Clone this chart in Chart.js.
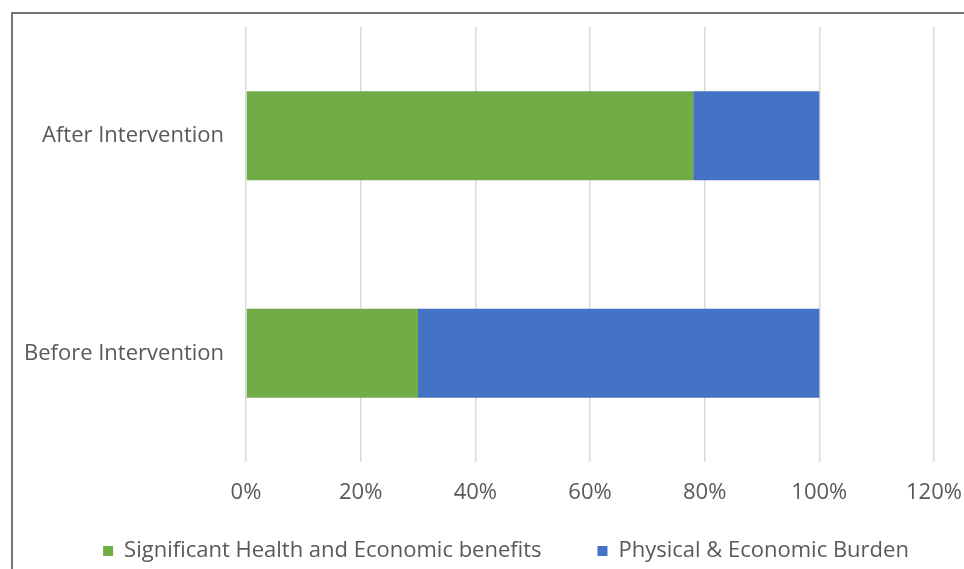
<!DOCTYPE html>
<html>
<head>
<meta charset="utf-8">
<script src="https://cdn.jsdelivr.net/npm/chart.js@4.4.1/dist/chart.umd.min.js"></script>
<style>
  html, body { margin: 0; padding: 0; background: #fff; overflow: hidden; }
  #wrap { position: relative; width: 964px; height: 569px; overflow: hidden; }
  #frame { position: absolute; left: 11px; top: 12px; width: 1000px; height: 600px;
           border-left: 2px solid #767676; border-top: 2px solid #767676; }
  #box { position: absolute; left: 0; top: 0; width: 1012px; height: 569px; }
</style>
</head>
<body>
<div id="wrap">
  <div id="frame"></div>
  <div id="box"><canvas id="chart"></canvas></div>
</div>
<script>
const categories = ["After Intervention", "Before Intervention"];
const healthBenefits = [78, 30];
const economicBurden = [22, 70];
const seriesNames = ["Significant Health and Economic benefits", "Physical & Economic Burden"];
const xTicks = [0, 20, 40, 60, 80, 100, 120];

const textColor = "#595959";
const fontFamily = "'Open Sans', sans-serif";
const fontSize = 22;

// nudge the legend right so it is centred like the original
const legendShift = {
  id: "legendShift",
  afterLayout(chart) {
    chart.legend.left += 39;
    chart.legend.right += 39;
  },
};

new Chart(document.getElementById("chart"), {
  type: "bar",
  data: {
    labels: categories,
    datasets: [
      { label: seriesNames[0], data: healthBenefits, backgroundColor: "#70ad47" },
      { label: seriesNames[1], data: economicBurden, backgroundColor: "#4472c4" },
    ],
  },
  options: {
    indexAxis: "y",
    responsive: true,
    maintainAspectRatio: false,
    animation: false,
    layout: { padding: { left: 0, right: 78, top: 27, bottom: -3 } },
    datasets: { bar: { categoryPercentage: 1, barPercentage: 0.41 } },
    scales: {
      x: {
        stacked: true,
        min: 0,
        max: 120,
        afterBuildTicks: (axis) => { axis.ticks = xTicks.map((v) => ({ value: v })); },
        afterFit: (axis) => { axis.height = 45; },
        grid: { color: "#d9d9d9", lineWidth: 1.5, drawTicks: false },
        border: { display: false },
        ticks: { color: textColor, font: { family: fontFamily, size: fontSize }, padding: 18,
                 callback: (v) => v + "%" },
      },
      y: {
        stacked: true,
        afterFit: (axis) => {
          axis.width = 246;
          axis.paddingTop = 0;
          axis.paddingBottom = 0;
        },
        grid: { display: false, drawTicks: false },
        border: { display: false },
        ticks: { color: textColor, font: { family: fontFamily, size: fontSize }, padding: 22 },
      },
    },
    plugins: {
      legend: {
        position: "bottom",
        labels: {
          color: textColor, font: { family: fontFamily, size: fontSize },
          boxWidth: 10, boxHeight: 10, padding: 33,
          generateLabels: (c) => Chart.defaults.plugins.legend.labels.generateLabels(c)
            .map((item, i) => (i === 0 ? { ...item, text: item.text + "    " } : item)),
        },
      },
      tooltip: { enabled: false },
    },
  },
  plugins: [legendShift],
});
</script>
</body>
</html>
